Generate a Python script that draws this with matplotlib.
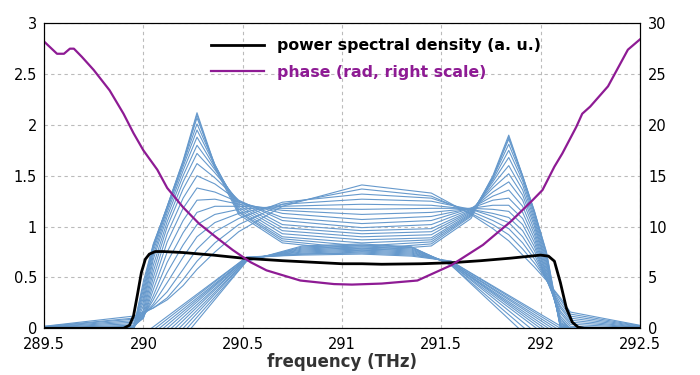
"""Spectral shaping: PSD, phase and iteration family."""
import matplotlib

matplotlib.use("Agg")
import matplotlib.pyplot as plt  # noqa: E402

# ---- data -----------------------------------------------------------------
psd_freq = [289.5, 289.9, 289.93, 289.95, 289.97, 289.99, 290.01, 290.03, 290.06,
            290.1, 290.2, 290.35, 290.5, 290.7, 290.9, 291.0, 291.1, 291.2, 291.4,
            291.55, 291.7, 291.85, 291.95, 292.0, 292.04, 292.07, 292.1, 292.13,
            292.16, 292.19, 292.22, 292.5]
psd_val = [0.0, 0.0, 0.03, 0.12, 0.33, 0.55, 0.68, 0.73, 0.755,
           0.755, 0.745, 0.72, 0.69, 0.665, 0.645, 0.635, 0.635, 0.63, 0.635,
           0.645, 0.665, 0.69, 0.71, 0.72, 0.71, 0.66, 0.45, 0.2,
           0.06, 0.01, 0.0, 0.0]

phase_freq = [289.5, 289.565, 289.6, 289.63, 289.65, 289.69, 289.75, 289.83, 289.9,
              289.95, 290.0, 290.07, 290.12, 290.2, 290.28, 290.37, 290.45, 290.54,
              290.62, 290.79, 290.96, 291.05, 291.2, 291.38, 291.55, 291.71, 291.85,
              291.96, 292.01, 292.07, 292.11, 292.18, 292.21, 292.25, 292.34, 292.44,
              292.5]
phase_val = [28.2, 27.0, 27.0, 27.5, 27.5, 26.7, 25.4, 23.4, 21.1,
             19.2, 17.5, 15.6, 13.8, 11.9, 10.3, 8.9, 7.7, 6.5,
             5.7, 4.7, 4.35, 4.3, 4.4, 4.7, 6.2, 8.2, 10.5,
             12.6, 13.6, 15.9, 17.2, 19.8, 21.1, 21.8, 23.8, 27.4,
             28.4]

# iterations: from the wide dome to the two-lobe spectrum
family_freq = [289.5, 289.95, 290.0, 290.05, 290.12, 290.2, 290.27, 290.36, 290.48,
               290.7, 291.1, 291.45, 291.65, 291.76, 291.84, 291.91, 291.97, 292.03,
               292.1, 292.15, 292.5]
family_psd = [
    [0.02, 0.12, 0.16, 0.2, 0.28, 0.42, 0.58, 0.75, 0.95, 1.2, 1.41, 1.33, 1.12, 0.98, 0.86, 0.72, 0.6, 0.47, 0.3, 0.16, 0.03],
    [0.018, 0.1, 0.15, 0.2, 0.3, 0.48, 0.66, 0.84, 1.02, 1.22, 1.37, 1.3, 1.13, 1.02, 0.92, 0.78, 0.64, 0.48, 0.28, 0.14, 0.025],
    [0.015, 0.09, 0.14, 0.22, 0.36, 0.58, 0.78, 0.95, 1.08, 1.24, 1.32, 1.28, 1.15, 1.06, 0.98, 0.84, 0.68, 0.48, 0.25, 0.12, 0.02],
    [0.012, 0.075, 0.13, 0.24, 0.45, 0.7, 0.9, 1.04, 1.13, 1.22, 1.27, 1.25, 1.17, 1.1, 1.04, 0.9, 0.72, 0.48, 0.22, 0.1, 0.015],
    [0.01, 0.06, 0.12, 0.28, 0.55, 0.82, 1.02, 1.12, 1.17, 1.2, 1.22, 1.21, 1.17, 1.13, 1.09, 0.96, 0.76, 0.48, 0.2, 0.08, 0.01],
    [0.007, 0.045, 0.11, 0.32, 0.65, 0.94, 1.14, 1.2, 1.2, 1.18, 1.17, 1.18, 1.18, 1.17, 1.15, 1.02, 0.8, 0.48, 0.17, 0.06, 0.008],
    [0.005, 0.03, 0.1, 0.38, 0.75, 1.06, 1.26, 1.27, 1.22, 1.16, 1.12, 1.14, 1.18, 1.21, 1.21, 1.08, 0.84, 0.48, 0.15, 0.04, 0.005],
    [0.0, 0.02, 0.1, 0.44, 0.85, 1.18, 1.38, 1.34, 1.24, 1.13, 1.07, 1.1, 1.18, 1.26, 1.28, 1.14, 0.88, 0.5, 0.12, 0.02, 0.0],
    [0.0, 0.01, 0.12, 0.5, 0.93, 1.28, 1.5, 1.42, 1.25, 1.09, 1.03, 1.06, 1.18, 1.3, 1.36, 1.2, 0.92, 0.52, 0.1, 0.0, 0.0],
    [0.0, 0.0, 0.15, 0.56, 1.0, 1.37, 1.62, 1.48, 1.26, 1.06, 0.99, 1.02, 1.17, 1.34, 1.44, 1.26, 0.96, 0.54, 0.08, 0.0, 0.0],
    [0.0, 0.0, 0.18, 0.62, 1.05, 1.44, 1.72, 1.53, 1.25, 1.02, 0.96, 0.98, 1.16, 1.38, 1.52, 1.31, 1.0, 0.57, 0.06, 0.0, 0.0],
    [0.0, 0.0, 0.22, 0.68, 1.1, 1.5, 1.8, 1.56, 1.23, 0.99, 0.93, 0.95, 1.15, 1.41, 1.6, 1.36, 1.03, 0.6, 0.05, 0.0, 0.0],
    [0.0, 0.0, 0.26, 0.72, 1.14, 1.55, 1.88, 1.58, 1.21, 0.96, 0.9, 0.92, 1.14, 1.44, 1.68, 1.41, 1.06, 0.63, 0.04, 0.0, 0.0],
    [0.0, 0.0, 0.3, 0.76, 1.17, 1.59, 1.95, 1.6, 1.19, 0.93, 0.87, 0.89, 1.13, 1.46, 1.75, 1.45, 1.09, 0.66, 0.03, 0.0, 0.0],
    [0.0, 0.0, 0.34, 0.79, 1.19, 1.62, 2.01, 1.61, 1.17, 0.9, 0.84, 0.87, 1.12, 1.48, 1.81, 1.48, 1.12, 0.69, 0.02, 0.0, 0.0],
    [0.0, 0.0, 0.38, 0.81, 1.2, 1.64, 2.07, 1.61, 1.15, 0.88, 0.81, 0.85, 1.11, 1.49, 1.86, 1.5, 1.14, 0.72, 0.01, 0.0, 0.0],
    [0.0, 0.0, 0.42, 0.82, 1.2, 1.65, 2.12, 1.6, 1.14, 0.86, 0.78, 0.83, 1.1, 1.5, 1.9, 1.5, 1.15, 0.74, 0.0, 0.0, 0.0],
    [0.0, 0.0, 0.46, 0.83, 1.19, 1.63, 2.1, 1.58, 1.12, 0.84, 0.76, 0.81, 1.08, 1.48, 1.88, 1.49, 1.14, 0.75, 0.02, 0.0, 0.0],
]

# late iterations with slow edges
fan_freq = [290.52, 290.8, 291.1, 291.35, 291.55]
fan_left_foot = [290.04, 290.06, 290.08, 290.1, 290.12, 290.14, 290.16, 290.18,
                 290.2, 290.22, 290.24]
fan_right_foot = [292.12, 292.1, 292.08, 292.06, 292.04, 292.02, 292.0, 291.98,
                  291.95, 291.92, 291.89]
fan_psd = [
    [0.7, 0.72, 0.73, 0.71, 0.66],
    [0.7, 0.73, 0.74, 0.72, 0.66],
    [0.69, 0.73, 0.75, 0.73, 0.65],
    [0.69, 0.74, 0.76, 0.74, 0.65],
    [0.69, 0.75, 0.77, 0.75, 0.64],
    [0.68, 0.76, 0.78, 0.76, 0.64],
    [0.68, 0.77, 0.79, 0.77, 0.64],
    [0.67, 0.78, 0.8, 0.78, 0.63],
    [0.67, 0.79, 0.81, 0.79, 0.63],
    [0.66, 0.8, 0.82, 0.8, 0.62],
    [0.66, 0.81, 0.83, 0.8, 0.62],
]

x_ticks = [289.5, 290, 290.5, 291, 291.5, 292, 292.5]
x_tick_labels = ["289.5", "290", "290.5", "291", "291.5", "292", "292.5"]
y_ticks = [0, 0.5, 1, 1.5, 2, 2.5, 3]
y_tick_labels = ["0", "0.5", "1", "1.5", "2", "2.5", "3"]
y2_ticks = [0, 5, 10, 15, 20, 25, 30]

BLUE = "#6699cc"
PURPLE = "#8e1b94"

# ---- plot -----------------------------------------------------------------
fig = plt.figure(figsize=(7, 3.75), dpi=100)
ax = fig.add_axes([0.063, 0.1245, 0.851, 0.8135])

for vals in family_psd:
    ax.plot(family_freq, vals, color=BLUE, lw=0.8)
for xl, xr, vals in zip(fan_left_foot, fan_right_foot, fan_psd):
    ax.plot([xl] + fan_freq + [xr], [0] + vals + [0], color=BLUE, lw=0.8)

line_psd, = ax.plot(psd_freq, psd_val, color="black", lw=2,
                    label="power spectral density (a. u.)")

ax.set_xlim(289.5, 292.5)
ax.set_ylim(0, 3)
ax.set_xticks(x_ticks, x_tick_labels)
ax.set_yticks(y_ticks, y_tick_labels)
ax.grid(True, ls=(0, (3, 3)), color="#bbbbbb", lw=0.8)
ax.set_axisbelow(True)
ax.tick_params(direction="in", length=0, labelsize=10.5)
ax.tick_params(axis="x", pad=6)
ax.tick_params(axis="y", pad=5)
ax.set_xlabel("frequency (THz)", fontsize=12, fontweight="bold", color="#333333",
              labelpad=1)

ax2 = ax.twinx()
line_phase, = ax2.plot(phase_freq, phase_val, color=PURPLE, lw=1.6,
                       label="phase (rad, right scale)")
ax2.set_ylim(0, 30)
ax2.set_yticks(y2_ticks)
ax2.tick_params(direction="in", length=0, labelsize=10.5, pad=6)

leg = ax2.legend(handles=[line_psd, line_phase], loc="upper left",
                 bbox_to_anchor=(0.255, 1.0), frameon=False, handlelength=3.4,
                 labelcolor="linecolor", prop={"weight": "bold", "size": 11.3},
                 borderpad=0.45, labelspacing=0.75)

fig.savefig("out.png", dpi=100)
plt.close(fig)
